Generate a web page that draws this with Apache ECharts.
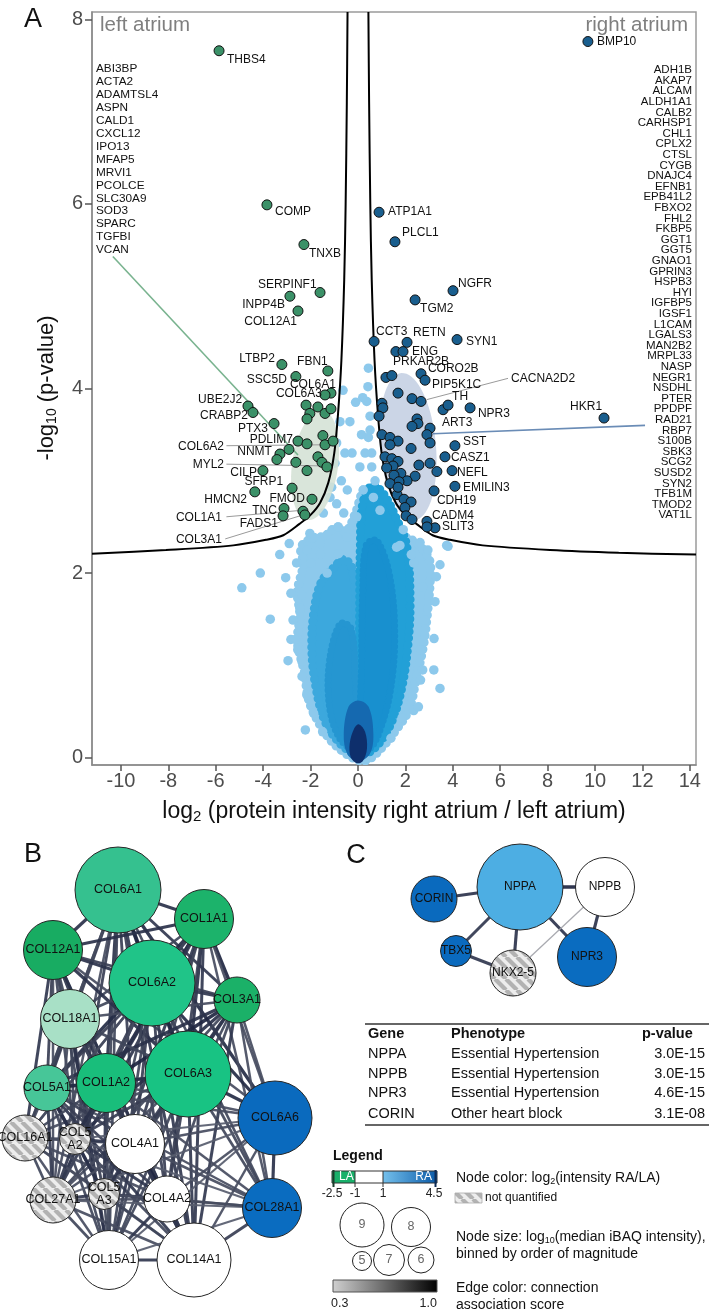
<!DOCTYPE html>
<html>
<head>
<meta charset="utf-8">
<title>Atrial proteome volcano and networks</title>
<script src="https://cdn.jsdelivr.net/npm/echarts@6/dist/echarts.min.js"></script>
<style>
html,body{margin:0;padding:0;background:#ffffff;}
#chart{width:709px;height:1313px;}
</style>
</head>
<body>
<div id="chart"></div>
<script>
const FONT = '"Liberation Sans", Arial, Helvetica, sans-serif';

// ================= PANEL A DATA =================
const xTicks = [-10,-8,-6,-4,-2,0,2,4,6,8,10,12,14];
const yTicks = [0,2,4,6,8];

const leftGenes = ['ABI3BP','ACTA2','ADAMTSL4','ASPN','CALD1','CXCL12','IPO13','MFAP5','MRVI1','PCOLCE','SLC30A9','SOD3','SPARC','TGFBI','VCAN'];
const rightGenes = ['ADH1B','AKAP7','ALCAM','ALDH1A1','CALB2','CARHSP1','CHL1','CPLX2','CTSL','CYGB','DNAJC4','EFNB1','EPB41L2','FBXO2','FHL2','FKBP5','GGT1','GGT5','GNAO1','GPRIN3','HSPB3','HYI','IGFBP5','IGSF1','L1CAM','LGALS3','MAN2B2','MRPL33','NASP','NEGR1','NSDHL','PTER','PPDPF','RAD21','RBP7','S100B','SBK3','SCG2','SUSD2','SYN2','TFB1M','TMOD2','VAT1L'];

// significant, higher in left atrium
const greenPts = [[-5.86,7.66],[-3.84,5.99],[-2.28,5.56],[-2.87,5.00],[-1.60,5.04],[-2.53,4.84],[-3.21,4.26],[-1.27,4.19],[-2.62,4.13],[-1.14,3.95],[-1.39,3.93],[-4.64,3.81],[-4.43,3.74],[-3.54,3.62],[-2.19,3.82],[-2.03,3.73],[-2.15,3.67],[-1.69,3.80],[-1.39,3.73],[-1.14,3.78],[-1.48,3.49],[-1.39,3.39],[-1.05,3.43],[-2.53,3.43],[-2.15,3.40],[-3.29,3.29],[-3.42,3.23],[-2.91,3.34],[-1.69,3.26],[-1.52,3.20],[-1.31,3.15],[-2.62,3.20],[-2.15,3.11],[-4.01,3.11],[-2.78,2.92],[-4.35,2.88],[-1.94,2.80],[-3.12,2.70],[-3.16,2.62],[-2.32,2.67],[-2.24,2.63]];
// significant, higher in right atrium
const bluePts = [[9.70,7.76],[0.89,5.91],[1.56,5.59],[4.01,5.06],[2.41,4.96],[0.68,4.51],[2.07,4.50],[4.18,4.53],[1.60,4.40],[1.90,4.40],[2.66,4.16],[2.83,4.09],[1.18,4.12],[1.43,4.14],[3.59,3.77],[3.80,3.82],[4.73,3.79],[10.38,3.68],[4.09,3.38],[3.67,3.26],[3.97,3.11],[4.09,2.94],[3.21,2.89],[2.91,2.56],[3.25,2.49],[2.91,2.50],[1.69,3.95],[2.28,3.89],[2.66,3.86],[1.01,3.84],[1.05,3.79],[0.89,3.70],[2.49,3.67],[2.53,3.62],[2.28,3.59],[3.04,3.57],[2.91,3.50],[3.04,3.41],[1.01,3.50],[1.35,3.47],[1.69,3.43],[1.35,3.39],[2.24,3.35],[1.14,3.26],[1.43,3.24],[1.69,3.21],[1.48,3.16],[1.81,3.08],[1.52,3.06],[2.57,3.17],[3.04,3.19],[3.33,3.10],[2.41,3.05],[2.07,3.00],[1.73,2.99],[1.35,2.97],[1.65,2.85],[1.94,2.80],[2.24,2.77],[1.98,2.71],[2.03,2.62],[2.28,2.58],[1.21,3.14],[1.69,2.93]];

// non-significant proteins: dense regions (outlines) and scattered points
const cloudLight = [[0.05,-0.03],[-0.6,0.06],[-1.25,0.22],[-1.8,0.45],[-2.1,0.65],[-2.25,0.92],[-2.55,1.25],[-2.45,1.55],[-2.55,1.8],[-2.3,2.1],[-2.4,2.28],[-1.9,2.38],[-1.4,2.4],[-0.9,2.5],[-0.5,2.45],[-0.1,2.65],[0.3,2.92],[0.7,2.8],[1.2,2.57],[1.8,2.42],[2.5,2.32],[3.0,2.15],[3.05,1.95],[2.9,1.5],[2.75,1.2],[2.45,0.85],[2.15,0.52],[1.6,0.3],[1.05,0.12],[0.45,-0.02]];
const cloudMidL = [[-0.05,0.06],[-0.7,0.14],[-1.4,0.4],[-1.8,0.8],[-1.95,1.2],[-1.85,1.6],[-1.55,1.9],[-1.05,2.05],[-0.6,2.15],[-0.25,2.05],[-0.08,1.6],[-0.05,0.9]];
const cloudMidR = [[0.06,0.06],[0.05,0.9],[0.07,1.6],[0.1,2.3],[0.2,2.75],[0.6,2.95],[1.1,2.85],[1.6,2.6],[2.05,2.3],[2.2,1.7],[2.1,1.2],[1.8,0.7],[1.3,0.32],[0.6,0.08]];
const cloudCoreL = [[-0.1,0.1],[-0.12,0.9],[-0.3,1.4],[-0.75,1.45],[-1.2,1.05],[-1.2,0.55],[-0.75,0.2]];
const cloudCoreR = [[0.12,0.12],[0.15,1.0],[0.2,1.8],[0.35,2.3],[0.8,2.35],[1.35,1.95],[1.55,1.3],[1.35,0.7],[0.9,0.28],[0.5,0.1]];
const cloudDeep = [[-0.45,0.04],[-0.6,0.25],[-0.4,0.55],[0,0.62],[0.45,0.55],[0.65,0.25],[0.5,0.04],[0,-0.04]];
const cloudTip = [[-0.3,0.0],[-0.35,0.15],[-0.15,0.32],[0.05,0.36],[0.3,0.28],[0.38,0.1],[0.2,-0.04],[-0.05,-0.06]];
const lightPts = [[-4.9,1.84],[-4.12,2.0],[-3.7,1.5],[-2.83,1.28],[-2.64,1.28],[-2.45,1.62],[-2.74,1.49],[-2.36,1.76],[-2.54,1.17],[-2.36,1.04],[-2.36,0.88],[-2.16,0.68],[-1.87,0.48],[-2.22,0.3],[-1.49,0.28],[-2.11,2.29],[-1.58,2.2],[-2.83,1.78],[-1.98,2.11],[-1.3,2.0],[-0.82,2.21],[3.46,0.75],[3.21,1.29],[3.25,1.69],[3.31,1.96],[3.46,2.09],[2.95,2.25],[3.8,2.29],[2.73,1.85],[2.83,1.49],[2.64,1.17],[2.73,0.95],[2.64,0.84],[2.35,0.51],[1.86,0.43],[1.39,0.21],[2.35,2.11],[2.25,2.2],[1.77,2.3],[-0.76,3.64],[-0.9,3.41],[-0.97,3.19],[-1.11,2.93],[-1.18,2.82],[-1.46,2.65],[-2.03,2.43],[-1.6,2.32],[-2.16,2.25],[-2.59,2.11],[0.37,3.86],[0.51,3.7],[0.44,3.47],[0.58,3.3],[0.72,3.0],[0.65,2.82],[0.08,3.15],[0.22,2.9],[-0.05,2.61],[-0.48,2.39],[-0.83,2.5],[-0.34,3.64],[-0.63,3.98],[0.42,4.02],[0.44,4.22],[0.51,3.55],[0.58,3.15],[0.93,2.68],[1.91,2.47],[2.62,2.33],[3.74,2.3],[1.63,2.28],[-0.55,3.3],[-0.7,3.0],[-0.45,2.9],[-0.25,3.3],[0.15,3.5],[0.3,3.3],[-0.1,3.85],[0.2,3.9],[-0.9,2.75],[-0.6,2.65],[-3.3,2.2],[-2.9,2.32],[-3.05,1.95],[-2.95,1.05],[3.2,0.95],[2.55,0.55]];

// significance threshold curves
const curveLeft = [[-11.22,2.21],[-8.1,2.25],[-5.26,2.3],[-3.88,2.36],[-3.15,2.41],[-2.48,2.53],[-2.0,2.63],[-1.6,2.76],[-1.25,2.98],[-1.0,3.3],[-0.84,3.73],[-0.7,4.3],[-0.58,5.18],[-0.52,6.0],[-0.47,7.1],[-0.44,8.08]];
const curveRight = [[0.44,8.08],[0.47,7.1],[0.52,6.0],[0.58,5.18],[0.7,4.3],[0.84,3.73],[1.0,3.3],[1.25,2.98],[1.6,2.76],[2.0,2.63],[2.48,2.53],[3.15,2.41],[3.88,2.36],[5.26,2.3],[8.1,2.25],[11,2.22],[14.26,2.2]];

// cluster regions [cx, cy, rx, ry, tiltDeg]
const clusterAreas = [[-1.81,3.17,0.97,0.6,8],[2.11,3.37,1.18,0.8,-5]];

// point labels: [text, x, y, side]
const greenLabels = [['THBS4',-5.53,7.56,'l'],['COMP',-3.5,5.92,'l'],['TNXB',-2.07,5.46,'l'],['SERPINF1',-4.22,5.13,'l'],['INPP4B',-3.08,4.91,'r'],['COL12A1',-2.57,4.72,'r'],['LTBP2',-3.5,4.32,'r'],['FBN1',-2.57,4.29,'l'],['SSC5D',-3.0,4.10,'r'],['COL6A1',-2.87,4.04,'l'],['COL6A3',-1.52,3.94,'r'],['UBE2J2',-4.89,3.88,'r'],['CRABP2',-4.64,3.70,'r'],['PTX3',-3.8,3.56,'r'],['PDLIM7',-2.74,3.44,'r'],['COL6A2',-5.65,3.37,'r'],['NNMT',-3.63,3.31,'r'],['MYL2',-5.65,3.17,'r'],['CILP',-4.26,3.09,'r'],['SFRP1',-3.16,2.99,'r'],['HMCN2',-4.68,2.80,'r'],['FMOD',-2.24,2.81,'r'],['TNC',-3.42,2.68,'r'],['COL1A1',-5.74,2.60,'r'],['FADS1',-3.38,2.53,'r'],['COL3A1',-5.74,2.36,'r']];
const blueLabels = [['BMP10',10.08,7.76,'l'],['ATP1A1',1.27,5.92,'l'],['PLCL1',1.86,5.69,'l'],['NGFR',4.22,5.14,'l'],['TGM2',2.62,4.86,'l'],['CCT3',0.76,4.62,'l'],['RETN',2.32,4.60,'l'],['SYN1',4.56,4.51,'l'],['ENG',2.28,4.40,'l'],['PRKAR2B',1.48,4.29,'l'],['CORO2B',2.95,4.21,'l'],['CACNA2D2',6.46,4.11,'l'],['PIP5K1C',3.12,4.04,'l'],['TH',3.97,3.91,'l'],['NPR3',5.06,3.73,'l'],['HKR1',10.3,3.80,'r'],['ART3',3.54,3.63,'l'],['SST',4.43,3.42,'l'],['CASZ1',3.92,3.25,'l'],['NEFL',4.18,3.09,'l'],['EMILIN3',4.43,2.92,'l'],['CDH19',3.33,2.78,'l'],['CADM4',3.12,2.62,'l'],['SLIT3',3.54,2.50,'l']];
const grayLeaders = [[-5.55,3.38,-1.39,3.39],[-5.55,3.18,-1.31,3.16],[-5.55,2.61,-2.36,2.68],[-5.6,2.37,-2.32,2.63],[6.33,4.11,2.91,3.88]];
const greenLeader = [[-10.34,5.43,-2.53,3.28]];
const blueLeader = [[12.11,3.6,3.16,3.51]];

// ================= PANEL B DATA =================
const bNames = ['COL6A1','COL1A1','COL12A1','COL6A2','COL3A1','COL18A1','COL6A3','COL5A1','COL1A2','COL6A6','COL16A1','COL5A2','COL4A1','COL27A1','COL5A3','COL4A2','COL28A1','COL15A1','COL14A1'];
const bPos = [[118,890],[204,919],[53,950],[152,983],[237,1000],[70,1019],[188,1074],[47,1088],[106,1083],[275,1118],[25,1138],[75,1139],[135,1144],[53,1200],[104,1194],[167,1199],[272,1208],[109,1260],[194,1260]];
const bBin = [9,7,7,9,6,7,9,6,7,8,6,5,7,6,5,6,7,7,8];
const bLog2 = [-1.4,-2.1,-2.4,-1.65,-2.2,-1.08,-1.8,-1.35,-1.9,3.5,null,null,0.3,null,null,0.5,3.4,-0.2,0.4];
const bEdges = [
[0,1,.9],[0,2,.9],[0,3,.99],[0,4,.85],[0,5,.75],[0,6,.99],[0,7,.8],[0,8,.9],[0,9,.95],[0,10,.7],[0,11,.8],[0,12,.8],[0,13,.7],[0,14,.75],[0,15,.8],[0,16,.75],[0,17,.75],[0,18,.85],
[1,2,.9],[1,3,.9],[1,4,.99],[1,5,.75],[1,6,.9],[1,7,.95],[1,8,.99],[1,9,.7],[1,10,.75],[1,11,.9],[1,12,.8],[1,13,.85],[1,14,.85],[1,15,.8],[1,16,.7],[1,17,.75],[1,18,.85],
[2,3,.9],[2,4,.8],[2,5,.75],[2,6,.9],[2,7,.8],[2,8,.9],[2,9,.7],[2,10,.85],[2,11,.75],[2,12,.7],[2,13,.7],[2,14,.7],[2,15,.7],[2,17,.75],[2,18,.9],
[3,4,.85],[3,5,.75],[3,6,.99],[3,7,.8],[3,8,.9],[3,9,.95],[3,10,.7],[3,11,.8],[3,12,.8],[3,13,.7],[3,14,.75],[3,15,.8],[3,16,.75],[3,17,.75],[3,18,.85],
[4,5,.7],[4,6,.85],[4,7,.9],[4,8,.99],[4,9,.7],[4,11,.9],[4,12,.8],[4,13,.75],[4,14,.85],[4,15,.75],[4,16,.7],[4,17,.75],[4,18,.85],
[5,6,.75],[5,7,.8],[5,8,.8],[5,10,.75],[5,11,.75],[5,12,.85],[5,13,.7],[5,14,.7],[5,15,.85],[5,17,.9],[5,18,.75],
[6,7,.8],[6,8,.9],[6,9,.95],[6,10,.7],[6,11,.8],[6,12,.8],[6,13,.7],[6,14,.75],[6,15,.8],[6,16,.75],[6,17,.75],[6,18,.85],
[7,8,.95],[7,9,.7],[7,10,.75],[7,11,.99],[7,12,.8],[7,13,.85],[7,14,.9],[7,15,.8],[7,16,.7],[7,17,.75],[7,18,.85],
[8,9,.7],[8,10,.75],[8,11,.9],[8,12,.8],[8,13,.85],[8,14,.85],[8,15,.8],[8,16,.7],[8,17,.75],[8,18,.85],
[9,11,.6],[9,12,.7],[9,13,.6],[9,15,.7],[9,16,.9],[9,17,.6],[9,18,.7],
[10,11,.75],[10,12,.7],[10,13,.75],[10,14,.7],[10,15,.7],[10,17,.7],[10,18,.7],
[11,12,.85],[11,13,.85],[11,14,.9],[11,15,.85],[11,16,.6],[11,17,.75],[11,18,.75],
[12,13,.7],[12,14,.85],[12,15,.99],[12,16,.7],[12,17,.85],[12,18,.85],
[13,14,.85],[13,15,.7],[13,16,.6],[13,17,.75],[13,18,.7],
[14,15,.85],[14,16,.7],[14,17,.75],[14,18,.75],
[15,16,.7],[15,17,.85],[15,18,.85],
[16,17,.6],[16,18,.8],
[17,18,.85]];

// ================= PANEL C DATA =================
const cNames = ['NPPA','NPPB','CORIN','TBX5','NKX2-5','NPR3'];
const cPos = [[520,887],[605,887],[434,899],[456,951],[513,973],[587,957]];
const cBin = [9,7,6,5,6,7];
const cLog2 = [2.0,0.6,3.5,3.5,null,3.4];
const cEdges = [[0,1,0.99],[0,2,0.88],[0,3,0.85],[0,4,0.88],[0,5,0.88],[1,5,0.88],[1,4,0.33],[3,4,0.85]];

const tableHeader = ['Gene','Phenotype','p-value'];
const tableRows = [['NPPA','Essential Hypertension','3.0E-15'],['NPPB','Essential Hypertension','3.0E-15'],['NPR3','Essential Hypertension','4.6E-15'],['CORIN','Other heart block','3.1E-08']];

const colorScaleTicks = ['-2.5','-1','1','4.5'];
const sizeLegendBins = [9,8,5,7,6];
const edgeScaleTicks = ['0.3','1.0'];

// ================= STYLES / HELPERS =================
const binDiameter = {9:86, 8:74, 7:59, 6:46, 5:31};
function hex2rgb(h){h=h.replace('#','');return [parseInt(h.slice(0,2),16),parseInt(h.slice(2,4),16),parseInt(h.slice(4,6),16)];}
function lerpColor(a,b,t){const A=hex2rgb(a),B=hex2rgb(b);return 'rgb('+A.map((v,i)=>Math.round(v+(B[i]-v)*t)).join(',')+')';}
function makeStripes(){
  const s=11, c=document.createElement('canvas'); c.width=s; c.height=s;
  const g=c.getContext('2d'); g.fillStyle='#ededed'; g.fillRect(0,0,s,s);
  g.strokeStyle='#b2b2b2'; g.lineWidth=4.2;
  [-s,0,s].forEach(o=>{g.beginPath();g.moveTo(o,0);g.lineTo(o+s,s);g.stroke();});
  return c;
}
const stripeCanvas = makeStripes();
const stripeFill = {image: stripeCanvas, repeat: 'repeat'};
const nodeStops = [[-2.5,'#17a95f'],[-2.1,'#1cb36b'],[-1.8,'#18c383'],[-1.6,'#22c489'],[-1.4,'#35c18f'],[-1.05,'#b3e3cb'],[-1.0,'#ffffff'],[1.0,'#ffffff'],[1.05,'#d3e9f7'],[2.0,'#4daee3'],[3.4,'#0a6cc0'],[4.5,'#0a56a6']];
function nodeColor(v){
  if (v===null) return stripeFill;
  if (v<=nodeStops[0][0]) return nodeStops[0][1];
  for (let i=1;i<nodeStops.length;i++){
    if (v<=nodeStops[i][0]){const a=nodeStops[i-1], b=nodeStops[i];return lerpColor(a[1],b[1],(v-a[0])/(b[0]-a[0]));}
  }
  return nodeStops[nodeStops.length-1][1];
}
function edgeColor(s){return lerpColor('#c4c4c4','#1e2540',Math.sqrt(Math.max(0,Math.min(1,(s-0.3)/0.7))));}
function edgeWidth(s){return 1.2+2.3*(s-0.3)/0.7;}

const cloudLayers = [cloudLight, cloudMidL, cloudMidR, cloudCoreL, cloudCoreR, cloudDeep, cloudTip];
const cloudColors = ['#8dc9ec','#3ca8dd','#22a0d7','#2596d1','#1890cf','#1569b0','#0e2f6c'];
const cloudDots = [9.5, 9, 9, 7, 7, 0, 0];

function lineSeries(data, color, width){
  return {type:'custom', coordinateSystem:'cartesian2d', xAxisIndex:0, yAxisIndex:0, silent:true, z:6,
    data:data,
    renderItem:function(params,api){
      const a=api.coord([api.value(0),api.value(1)]), b=api.coord([api.value(2),api.value(3)]);
      return {type:'line', shape:{x1:a[0],y1:a[1],x2:b[0],y2:b[1]}, style:{stroke:color, lineWidth:width}};
    }};
}
function labelSeries(labels){
  return {type:'custom', coordinateSystem:'cartesian2d', xAxisIndex:0, yAxisIndex:0, silent:true, z:9,
    data:labels.map(l=>[l[1],l[2]]),
    renderItem:function(params,api){
      const p=api.coord([api.value(0),api.value(1)]); const l=labels[params.dataIndex];
      return {type:'text', x:p[0], y:p[1], style:{text:l[0], fill:'#111', fontSize:12, fontFamily:FONT,
        textAlign: l[3]==='r'?'right':'left', textVerticalAlign:'middle', align: l[3]==='r'?'right':'left', verticalAlign:'middle'}};
    }};
}
function netEdgeSeries(items){
  return {type:'custom', coordinateSystem:'cartesian2d', xAxisIndex:1, yAxisIndex:1, silent:true, z:3,
    data:items,
    renderItem:function(params,api){
      const a=api.coord([api.value(0),api.value(1)]), b=api.coord([api.value(2),api.value(3)]); const s=api.value(4);
      return {type:'line', shape:{x1:a[0],y1:a[1],x2:b[0],y2:b[1]}, style:{stroke:edgeColor(s), lineWidth:edgeWidth(s), opacity:0.92}};
    }};
}
function edgeItems(edges,pos){return edges.map(e=>[pos[e[0]][0],pos[e[0]][1],pos[e[1]][0],pos[e[1]][1],e[2]]);}
function nodeSeries(names,pos,bins,logs,fs){
  return {type:'custom', coordinateSystem:'cartesian2d', xAxisIndex:1, yAxisIndex:1, silent:true, z:4,
    data:pos.map(p=>[p[0],p[1]]),
    renderItem:function(params,api){
      const i=params.dataIndex; const c=api.coord([api.value(0),api.value(1)]);
      const r=binDiameter[bins[i]]/2; const n=names[i];
      const txt = (bins[i]===5 && n.length>5) ? n.slice(0,4)+'\n'+n.slice(4) : n;
      return {type:'group', children:[
        {type:'circle', shape:{cx:c[0],cy:c[1],r:r}, style:{fill:nodeColor(logs[i]), stroke:'#262626', lineWidth:1}},
        {type:'text', x:c[0], y:c[1], style:{text:txt, fill:'#111', fontSize:fs, fontFamily:FONT, lineHeight:13,
          textAlign:'center', textVerticalAlign:'middle', align:'center', verticalAlign:'middle'}}
      ]};
    }};
}

// ================= GRAPHIC (texts, legend) =================
const G = [];
function T(x,y,text,o){
  o=o||{};
  const st={text:text, fill:o.color||'#111', fontSize:o.size||12, fontFamily:FONT, fontWeight:o.weight||'normal',
    textAlign:o.align||'left', textVerticalAlign:o.va||'middle', align:o.align||'left', verticalAlign:o.va||'middle'};
  if (o.lh) st.lineHeight=o.lh;
  if (o.rich) st.rich=o.rich;
  G.push({type:'text', x:x, y:y, rotation:o.rot||0, z:100, silent:true, style:st});
}
function R(x,y,w,h,fill,stroke,lw){G.push({type:'rect', z:100, silent:true, shape:{x:x,y:y,width:w,height:h}, style:{fill:fill, stroke:stroke||null, lineWidth:lw||0}});}
function L(x1,y1,x2,y2,stroke,lw){G.push({type:'line', z:101, silent:true, shape:{x1:x1,y1:y1,x2:x2,y2:y2}, style:{stroke:stroke, lineWidth:lw}});}
function C(cx,cy,r){G.push({type:'circle', z:100, silent:true, shape:{cx:cx,cy:cy,r:r}, style:{fill:'#fff', stroke:'#222', lineWidth:1}});}

const subRich = (fs,pad)=>({s:{fontSize:fs, fontFamily:FONT, padding:[pad,0,0,0], fill:'#111', color:'#111'}});

// panel letters
T(33,20,'A',{size:27,align:'center'}); T(33,855,'B',{size:27,align:'center'}); T(356,856,'C',{size:27,align:'center'});
// region titles
T(100,25,'left atrium',{size:20.5,color:'#7f7f7f'});
T(688,25,'right atrium',{size:20.5,color:'#7f7f7f',align:'right'});
// gene lists
T(96,62.5,leftGenes.join('\n'),{size:11.8,lh:12.93,va:'top'});
T(692,64.7,rightGenes.join('\n'),{size:11.5,lh:10.6,va:'top',align:'right'});
// axis titles
T(394,812,'log{s|2} (protein intensity right atrium / left atrium)',{size:23,align:'center',rich:subRich(15,10)});
T(47,388,'-log{s|10} (p-value)',{size:22,align:'center',rot:Math.PI/2,rich:subRich(14,10)});

// table
L(365,1024,709,1024,'#333',1.3); L(365,1125,709,1125,'#333',1.3);
T(368,1034,tableHeader[0],{size:14.5,weight:'bold'});
T(451,1034,tableHeader[1],{size:14.5,weight:'bold'});
T(642,1034,tableHeader[2],{size:14.5,weight:'bold'});
const rowY=[1054,1074,1093,1114];
tableRows.forEach((r,i)=>{T(368,rowY[i],r[0],{size:14.5});T(451,rowY[i],r[1],{size:14.5});T(705,rowY[i],r[2],{size:14.5,align:'right'});});

// legend
T(333,1156,'Legend',{size:14,weight:'bold'});
R(332,1171,23,12,'#19b06a');
R(355,1171,28,12,'#ffffff');
R(383,1171,54,12,new echarts.graphic.LinearGradient(0,0,1,0,[{offset:0,color:'#74c0ec'},{offset:1,color:'#0a5aa8'}]));
R(332,1171,105,12,null,'#333',1);
L(333.5,1170,333.5,1187,'#1c3d2c',2); L(355,1171,355,1187,'#333',1); L(383,1171,383,1187,'#333',1); L(435.5,1170,435.5,1187,'#0c2a55',2);
T(339,1177,'LA',{size:12,color:'#fff'}); T(432,1177,'RA',{size:12,color:'#fff',align:'right'});
const cbX=[332,355,383,434];
colorScaleTicks.forEach((t,i)=>T(cbX[i],1194,t,{size:12,align:'center',color:'#222'}));
const sizeLegendPos=[[362,1225,22],[411,1227,19.5],[362,1261,9.5],[389,1260,15.5],[421,1260,13]];
sizeLegendBins.forEach((b,i)=>{const p=sizeLegendPos[i];C(p[0],p[1],p[2]);T(p[0],p[1],String(b),{size:12.5,align:'center',color:'#666'});});
R(333,1280,104,12,new echarts.graphic.LinearGradient(0,0,1,0,[{offset:0,color:'#d0d0d0'},{offset:1,color:'#000000'}]),'#555',1);
T(331,1304,edgeScaleTicks[0],{size:12.5,color:'#222'}); T(437,1304,edgeScaleTicks[1],{size:12.5,align:'right',color:'#222'});
T(456,1178,'Node color: log{s|2}(intensity RA/LA)',{size:14,rich:subRich(9,7)});
R(455,1193,27,10,stripeFill,'#aaa',0.8);
T(485,1198,'not quantified',{size:12});
T(456,1237,'Node size: log{s|10}(median iBAQ intensity),',{size:14,rich:subRich(9,7)});
T(456,1254,'binned by order of magnitude',{size:14});
T(456,1288,'Edge color: connection',{size:14});
T(456,1305,'association score',{size:14});

// ================= OPTION =================
const option = {
  animation:false,
  backgroundColor:'#ffffff',
  grid:[
    {left:92, right:13, top:12, bottom:548, show:true, borderColor:'#9a9a9a', borderWidth:1.5, backgroundColor:'transparent'},
    {left:0, right:0, top:0, bottom:0}
  ],
  xAxis:[
    {type:'value', gridIndex:0, min:-11.22, max:14.26, splitLine:{show:false},
     axisLine:{show:true, onZero:false, lineStyle:{color:'#8a8a8a', width:1.5}},
     axisTick:{show:true, length:6, customValues:xTicks, lineStyle:{color:'#555', width:1.5}},
     axisLabel:{customValues:xTicks, fontSize:20, color:'#4d4d4d', margin:6, fontFamily:FONT}},
    {type:'value', gridIndex:1, min:0, max:709, show:false}
  ],
  yAxis:[
    {type:'value', gridIndex:0, min:-0.08, max:8.08, splitLine:{show:false},
     axisLine:{show:true, onZero:false, lineStyle:{color:'#8a8a8a', width:1.5}},
     axisTick:{show:true, length:7, customValues:yTicks, lineStyle:{color:'#555', width:1.5}},
     axisLabel:{customValues:yTicks, fontSize:20, color:'#4d4d4d', margin:9, fontFamily:FONT}},
    {type:'value', gridIndex:1, min:0, max:1313, inverse:true, show:false}
  ],
  graphic:{elements:G},
  series:[
    {type:'custom', name:'cloud', coordinateSystem:'cartesian2d', xAxisIndex:0, yAxisIndex:0, silent:true, z:1, clip:true,
     data:cloudLayers.map((p,i)=>[i,0]),
     renderItem:function(params,api){
       const k=params.dataIndex; const pts=cloudLayers[k].map(p=>api.coord(p));
       const st={fill:cloudColors[k]};
       if (cloudDots[k]>0){st.stroke=cloudColors[k]; st.lineWidth=cloudDots[k]; st.lineDash=[0,cloudDots[k]*0.72]; st.lineCap='round';}
       return {type:'polygon', shape:{points:pts, smooth:0.35}, style:st};
     }},
    {type:'scatter', name:'non-significant', xAxisIndex:0, yAxisIndex:0, silent:true, z:2, symbolSize:9.5,
     itemStyle:{color:'#8dc9ec', opacity:1}, data:lightPts},
    {type:'custom', name:'clusters', coordinateSystem:'cartesian2d', xAxisIndex:0, yAxisIndex:0, silent:true, z:3,
     data:clusterAreas,
     renderItem:function(params,api){
       const c=api.coord([api.value(0),api.value(1)]); const sz=api.size([api.value(2),api.value(3)]);
       const th=api.value(4)*Math.PI/180; const pts=[];
       for(let i=0;i<72;i++){const t=i/72*2*Math.PI; const x=sz[0]*Math.cos(t), y=sz[1]*Math.sin(t);
         pts.push([c[0]+x*Math.cos(th)-y*Math.sin(th), c[1]+x*Math.sin(th)+y*Math.cos(th)]);}
       const fills=['rgba(212,225,213,0.88)','rgba(196,207,226,0.88)'];
       return {type:'polygon', shape:{points:pts}, style:{fill:fills[params.dataIndex]}};
     }},
    {type:'line', name:'thresholdL', xAxisIndex:0, yAxisIndex:0, data:curveLeft, symbol:'none', smooth:0.3, silent:true, z:5,
     lineStyle:{color:'#000', width:2}},
    {type:'line', name:'thresholdR', xAxisIndex:0, yAxisIndex:0, data:curveRight, symbol:'none', smooth:0.3, silent:true, z:5,
     lineStyle:{color:'#000', width:2}},
    lineSeries(greenLeader,'#79b38f',1.6),
    lineSeries(blueLeader,'#6a8cb6',1.6),
    lineSeries(grayLeaders,'#9a9a9a',1),
    {type:'scatter', name:'LA', xAxisIndex:0, yAxisIndex:0, silent:true, z:8, symbolSize:10,
     itemStyle:{color:'#3b9168', borderColor:'#111', borderWidth:1, opacity:1}, data:greenPts},
    {type:'scatter', name:'RA', xAxisIndex:0, yAxisIndex:0, silent:true, z:8, symbolSize:10,
     itemStyle:{color:'#195e8e', borderColor:'#111', borderWidth:1, opacity:1}, data:bluePts},
    labelSeries(greenLabels),
    labelSeries(blueLabels),
    netEdgeSeries(edgeItems(bEdges,bPos)),
    netEdgeSeries(edgeItems(cEdges,cPos)),
    nodeSeries(bNames,bPos,bBin,bLog2,12.5),
    nodeSeries(cNames,cPos,cBin,cLog2,12)
  ]
};
const chart = echarts.init(document.getElementById('chart'), null, {renderer:'canvas', width:709, height:1313});
chart.setOption(option);
</script>
</body>
</html>
